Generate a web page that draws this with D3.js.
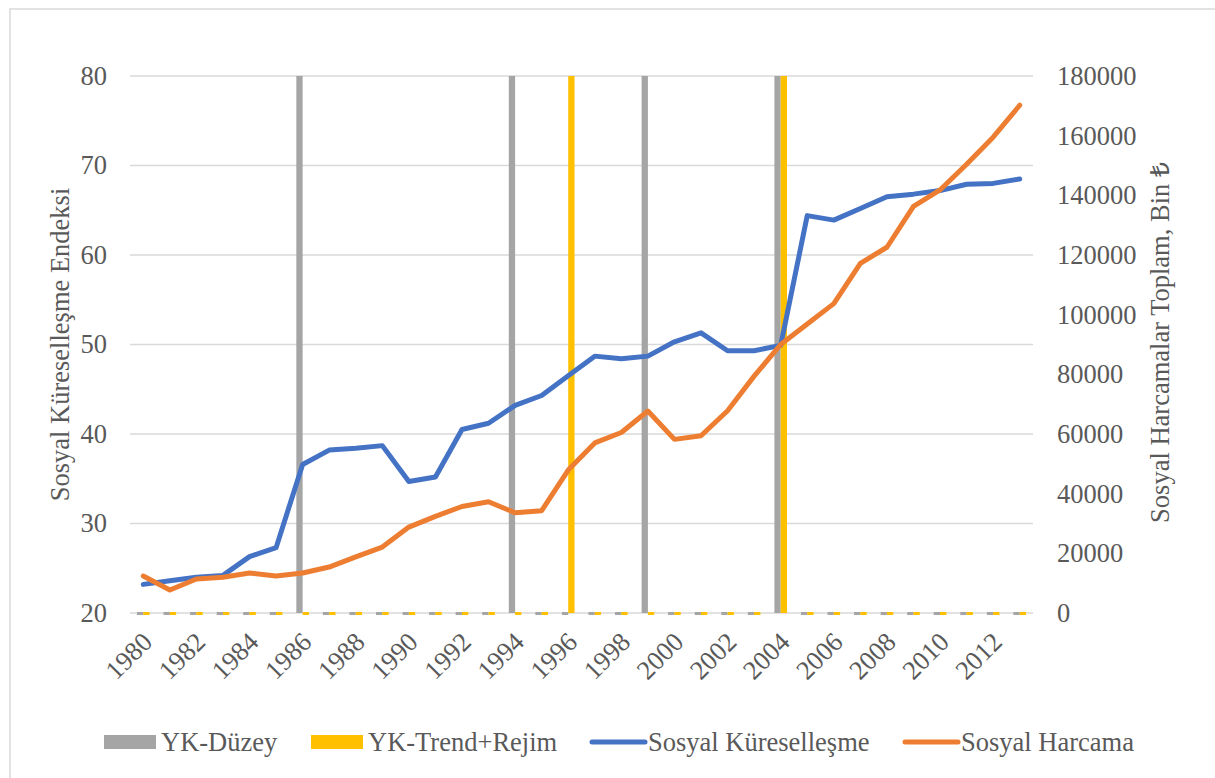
<!DOCTYPE html>
<html>
<head>
<meta charset="utf-8">
<script src="https://cdn.jsdelivr.net/npm/d3@7"></script>
<style>
  body { margin: 0; background: #fff; }
  svg { display: block; font-family: "Liberation Serif", "Times New Roman", serif; }
</style>
</head>
<body>
<svg width="1215" height="778"></svg>
<script>
// years on the x axis
var years = d3.range(1980, 2014);

// Sosyal Küreselleşme Endeksi (left axis)
var kuresellesme = [23.2, 23.6, 24.0, 24.2, 26.3, 27.3, 36.6, 38.2, 38.4, 38.7,
  34.7, 35.2, 40.5, 41.2, 43.2, 44.3, 46.5, 48.7, 48.4, 48.7,
  50.3, 51.3, 49.3, 49.3, 49.9, 64.4, 63.9, 65.2, 66.5, 66.8,
  67.2, 67.9, 68.0, 68.5];

// Sosyal Harcama, Bin TL (right axis)
var harcama = [12400, 7700, 11400, 12000, 13400, 12400, 13400, 15400, 18800, 22100,
  28800, 32400, 35700, 37300, 33600, 34300, 47900, 57000, 60500, 67700,
  58200, 59400, 67800, 79400, 90000, 96900, 103700, 117200, 122600, 136300,
  141800, 150400, 159500, 170200];

// structural break markers (1 = break in that year)
var ykDuzey = years.map(function(y) { return [1986, 1994, 1999, 2004].indexOf(y) >= 0 ? 1 : 0; });
var ykTrend = years.map(function(y) { return [1996, 2004].indexOf(y) >= 0 ? 1 : 0; });

var leftTicks = [20, 30, 40, 50, 60, 70, 80];
var rightTicks = d3.range(0, 180001, 20000);
var xLabels = years.filter(function(y) { return (y - 1980) % 2 === 0; });

var svg = d3.select("svg");
var textColor = "#595959";
var gridColor = "#d9d9d9";
var fontSize = "26.5px";

var plotLeft = 130, plotRight = 1033, plotTop = 76, plotBottom = 613;

// outer chart border
svg.append("rect")
  .attr("x", 10).attr("y", 9)
  .attr("width", 1240).attr("height", 800)
  .attr("fill", "none").attr("stroke", gridColor).attr("stroke-width", 1.5);

var x = d3.scaleBand().domain(years).range([plotLeft, plotRight]);
var yL = d3.scaleLinear().domain([20, 80]).range([plotBottom, plotTop]);
var yR = d3.scaleLinear().domain([0, 180000]).range([plotBottom, plotTop]);
var yB = d3.scaleLinear().domain([0, 1]).range([plotBottom, plotTop]);

var barW = 6.3;
var sub = d3.scaleBand().domain(["duzey", "trend"])
  .range([x.bandwidth() / 2 - barW, x.bandwidth() / 2 + barW]);

// gridlines
svg.append("g")
  .selectAll("line")
  .data(leftTicks)
  .enter().append("line")
  .attr("x1", plotLeft).attr("x2", plotRight)
  .attr("y1", function(d) { return yL(d); })
  .attr("y2", function(d) { return yL(d); })
  .attr("stroke", gridColor)
  .attr("stroke-width", 1.5);

// left axis
var axL = svg.append("g")
  .attr("transform", "translate(" + plotLeft + ",0)")
  .call(d3.axisLeft(yL).tickValues(leftTicks).tickSize(0).tickPadding(23));
axL.select(".domain").remove();
axL.selectAll("text")
  .attr("fill", textColor)
  .attr("font-size", fontSize)
  .attr("font-family", "Liberation Serif");

// right axis
var axR = svg.append("g")
  .attr("transform", "translate(" + plotRight + ",0)")
  .call(d3.axisRight(yR).tickValues(rightTicks).tickSize(0).tickPadding(24)
    .tickFormat(d3.format("d")));
axR.select(".domain").remove();
axR.selectAll("text")
  .attr("fill", textColor)
  .attr("font-size", fontSize)
  .attr("font-family", "Liberation Serif");

// x labels
svg.append("g")
  .selectAll("text")
  .data(xLabels)
  .enter().append("text")
  .attr("transform", function(d) {
    return "translate(" + (x(d) + x.bandwidth() / 2 + 4) + "," + 637 + ") rotate(-45)";
  })
  .attr("text-anchor", "end")
  .attr("dy", "0.35em")
  .attr("fill", textColor)
  .attr("font-size", fontSize)
  .attr("font-family", "Liberation Serif")
  .text(function(d) { return d; });

// bars
function drawBars(values, key, color) {
  svg.append("g")
    .selectAll("rect")
    .data(values)
    .enter().append("rect")
    .attr("x", function(d, i) { return x(years[i]) + sub(key); })
    .attr("width", sub.bandwidth())
    .attr("y", function(d) { return d > 0 ? yB(d) : plotBottom - 1; })
    .attr("height", function(d) { return d > 0 ? yB(0) - yB(d) : 3; })
    .attr("fill", color);
}
drawBars(ykDuzey, "duzey", "#a5a5a5");
drawBars(ykTrend, "trend", "#ffc000");

// lines
function drawLine(values, scale, color) {
  var line = d3.line()
    .x(function(d, i) { return x(years[i]) + x.bandwidth() / 2; })
    .y(function(d) { return scale(d); });
  svg.append("path")
    .datum(values)
    .attr("d", line)
    .attr("fill", "none")
    .attr("stroke", color)
    .attr("stroke-width", 5)
    .attr("stroke-linejoin", "round")
    .attr("stroke-linecap", "round");
}
drawLine(kuresellesme, yL, "#4472c4");
drawLine(harcama, yR, "#ed7d31");

// axis titles
svg.append("text")
  .attr("transform", "translate(69," + ((plotTop + plotBottom) / 2) + ") rotate(-90)")
  .attr("text-anchor", "middle")
  .attr("fill", textColor)
  .attr("font-size", fontSize)
  .attr("font-family", "Liberation Serif")
  .text("Sosyal Küreselleşme Endeksi");

svg.append("text")
  .attr("transform", "translate(1169," + ((plotTop + plotBottom) / 2 - 2) + ") rotate(-90)")
  .attr("text-anchor", "middle")
  .attr("fill", textColor)
  .attr("font-size", fontSize)
  .attr("font-family", "Liberation Serif")
  .text("Sosyal Harcamalar Toplam, Bin ₺");

// legend
var legend = [
  { name: "YK-Düzey", color: "#a5a5a5", type: "bar", x: 104 },
  { name: "YK-Trend+Rejim", color: "#ffc000", type: "bar", x: 311 },
  { name: "Sosyal Küreselleşme", color: "#4472c4", type: "line", x: 590 },
  { name: "Sosyal Harcama", color: "#ed7d31", type: "line", x: 903 }
];
var ly = 742;
var lg = svg.append("g").selectAll("g").data(legend).enter().append("g")
  .attr("transform", function(d) { return "translate(" + d.x + "," + ly + ")"; });
lg.filter(function(d) { return d.type === "bar"; })
  .append("rect")
  .attr("x", 0).attr("y", -7).attr("width", 52).attr("height", 14)
  .attr("fill", function(d) { return d.color; });
lg.filter(function(d) { return d.type === "line"; })
  .append("line")
  .attr("x1", 2).attr("x2", 55).attr("y1", 0).attr("y2", 0)
  .attr("stroke", function(d) { return d.color; })
  .attr("stroke-width", 5)
  .attr("stroke-linecap", "round");
lg.append("text")
  .attr("x", function(d) { return d.type === "bar" ? 57 : 58; })
  .attr("dy", "0.35em")
  .attr("fill", textColor)
  .attr("font-size", fontSize)
  .attr("font-family", "Liberation Serif")
  .text(function(d) { return d.name; });
</script>
</body>
</html>
